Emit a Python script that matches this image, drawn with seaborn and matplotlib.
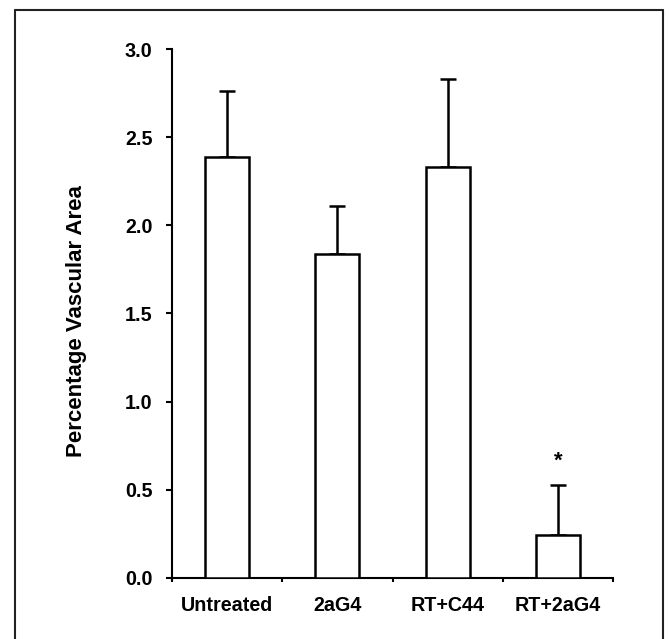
import numpy as np
import pandas as pd
import seaborn as sns
import matplotlib.pyplot as plt
from matplotlib.lines import Line2D

# values
groups = ["Untreated", "2aG4", "RT+C44", "RT+2aG4"]
means = [2.39, 1.84, 2.33, 0.245]
sem = [0.37, 0.27, 0.50, 0.28]
star_y = 0.66
yticks = [0.0, 0.5, 1.0, 1.5, 2.0, 2.5, 3.0]

df = pd.DataFrame({"group": groups, "area": means})

sns.set_style("ticks")
plt.rcParams["font.family"] = ["Liberation Sans", "DejaVu Sans"]
plt.rcParams["font.weight"] = "bold"
plt.rcParams["text.color"] = "black"
plt.rcParams["axes.labelcolor"] = "black"
plt.rcParams["xtick.color"] = "black"
plt.rcParams["ytick.color"] = "black"

fig = plt.figure(figsize=(6.69, 6.39), dpi=100)
ax = fig.add_axes([0.2571, 0.0955, 0.6592, 0.8278])

sns.barplot(data=df, x="group", y="area", color="white", edgecolor="black",
            linewidth=1.8, width=0.4, errorbar=None, ax=ax, zorder=3)

# one-sided error bars (upward only)
x = np.arange(len(groups))
ax.errorbar(x, means, yerr=[np.zeros(len(sem)), sem], fmt="none",
            ecolor="black", elinewidth=1.8, capsize=5.5, capthick=1.8, zorder=2)

ax.text(3, star_y, "*", ha="center", va="center", fontsize=16, fontweight="bold")

ax.set_xlim(-0.5, 3.5)
ax.set_ylim(0, 3.0)
ax.set_yticks(yticks)
ax.set_yticklabels([f"{v:.1f}" for v in yticks])
ax.set_xticks(x)
ax.set_xticklabels(groups)
ax.set_xticks(np.arange(-0.5, 4, 1), minor=True)

ax.set_xlabel("")
ax.set_ylabel("Percentage Vascular Area", fontsize=16, fontweight="bold")
ax.yaxis.set_label_coords(-0.193, 0.486)

ax.tick_params(axis="y", length=4, width=1.5, pad=10, labelsize=14.2)
ax.tick_params(axis="x", which="major", length=0, pad=13, labelsize=14.2)
ax.tick_params(axis="x", which="minor", length=3, width=1.5)
for lab in ax.get_xticklabels() + ax.get_yticklabels():
    lab.set_fontweight("bold")

sns.despine(ax=ax)
ax.spines["left"].set_linewidth(1.5)
ax.spines["bottom"].set_linewidth(1.5)
ax.spines["left"].set_color("black")
ax.spines["bottom"].set_color("black")

# thin frame round the figure (open at the bottom)
fl, fr, ft = 15 / 669, 663 / 669, 1 - 10 / 639
frame = dict(color="#222222", linewidth=1.5, transform=fig.transFigure)
fig.add_artist(Line2D([fl, fl], [ft, -0.01], **frame))
fig.add_artist(Line2D([fl, fr], [ft, ft], **frame))
fig.add_artist(Line2D([fr, fr], [ft, -0.01], **frame))

fig.savefig("out.png", dpi=100, facecolor="white")
